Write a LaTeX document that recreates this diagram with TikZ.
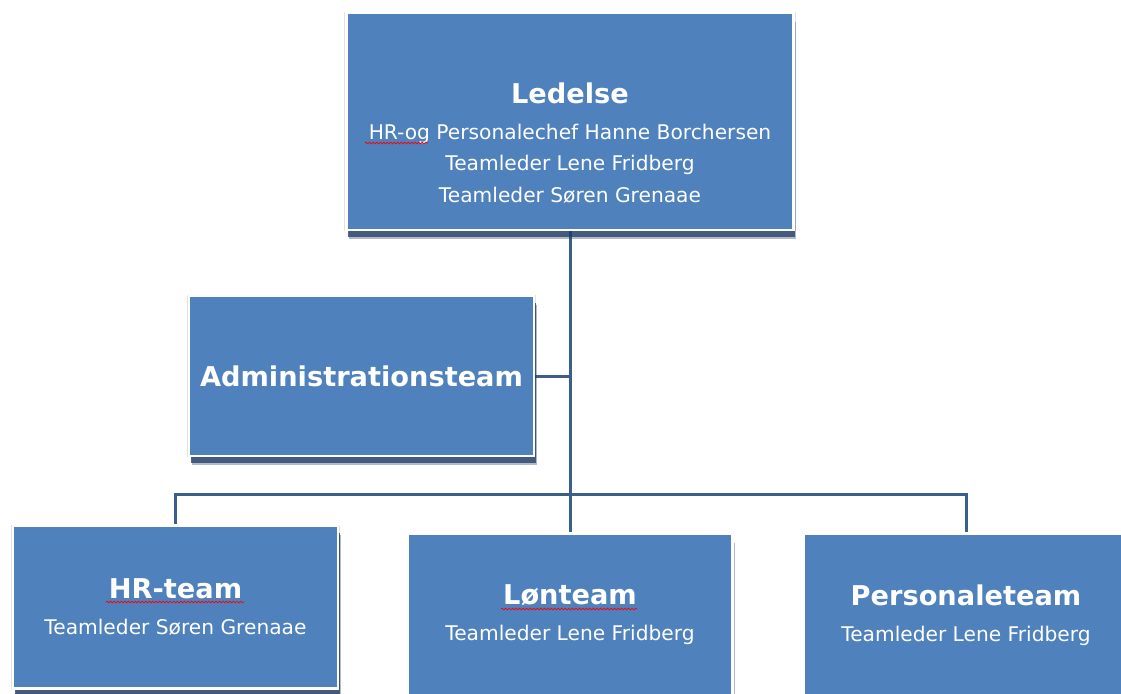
\documentclass[tikz,border=0pt]{standalone}
\usepackage{fontspec}
\setmainfont{DejaVu Sans}
\usetikzlibrary{shadows,decorations.pathmorphing}
\definecolor{boxblue}{HTML}{4F81BD}
\definecolor{lineblue}{HTML}{3A5F8B}
\definecolor{shadowblue}{HTML}{1F3A64}
\newcommand{\titlefont}{\fontsize{15.5}{19}\selectfont\bfseries}
\newcommand{\namefont}{\fontsize{11.5}{18}\selectfont}
\pgfdeclarelayer{background}
\pgfsetlayers{background,main}

\begin{document}
\begin{tikzpicture}[x=0.02cm, y=-0.02cm,
    orgbox/.style={draw=white, line width=1.6pt, fill=boxblue, inner sep=0pt,
      text=white, align=center, font=\namefont,
      general shadow={shadow scale=1.012, fill=black!45, opacity=0.25},
      drop shadow={shadow xshift=1.6pt, shadow yshift=-5.2pt, fill=shadowblue, opacity=0.35},
      drop shadow={shadow xshift=1.1pt, shadow yshift=-4pt, fill=shadowblue, opacity=0.75}},
    teambox/.style={orgbox, minimum width=6.5cm, minimum height=3.26cm},
    boxtext/.style={text=white, align=center, font=\namefont, inner sep=0pt},
    orgline/.style={draw=lineblue, line width=1.7pt},
    spellmark/.style={draw=red, line width=0.4pt, decorate,
      decoration={snake, amplitude=0.5pt, segment length=2pt}}]
    \useasboundingbox (0,0) rectangle (1121,693);
    % boxes
    \node[orgbox, minimum width=8.94cm, minimum height=4.34cm] (ledelse) at (570,121.5) {};
    \node[boxtext] (ledelsetext) at (570,143)
        {{\titlefont Ledelse}\\[2.4pt] HR-og Personalechef Hanne Borchersen\\
         Teamleder Lene Fridberg\\ Teamleder Søren Grenaae};
    \node[orgbox, minimum width=6.9cm, minimum height=3.2cm, font=\titlefont] (admin)
        at (361.5,376) {Administrationsteam};
    \node[teambox] (hrteam) at (175.5,607)
        {{\titlefont HR-team}\\[2.4pt] Teamleder Søren Grenaae};
    \node[teambox] (lonteam) at (570,615)
        {{\titlefont Lønteam}\\[2.4pt] Teamleder Lene Fridberg};
    \node[teambox] (personaleteam) at (966,615)
        {{\titlefont Personaleteam}\\[2.4pt] Teamleder Lene Fridberg};
    % spelling marks
    \draw[spellmark] (365,143) -- (428,143);
    \draw[spellmark] (106,602) -- (244,602);
    \draw[spellmark] (501,609) -- (637,609);
    % connectors
    \coordinate (bus) at (570,494);
    \begin{pgfonlayer}{background}
        \draw[orgline] (ledelse.south) -- (lonteam.north);
        \draw[orgline] (admin.east) -- (admin.east -| ledelse.south);
        \draw[orgline] (hrteam.north) |- (bus) -| (personaleteam.north);
    \end{pgfonlayer}
\end{tikzpicture}
\end{document}
